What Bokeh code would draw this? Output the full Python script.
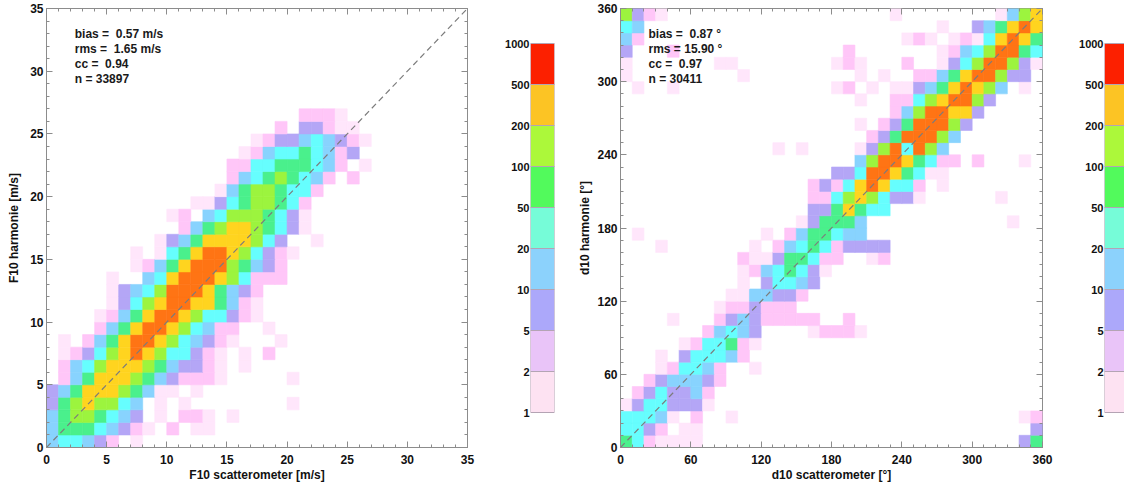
from bokeh.plotting import figure
from bokeh.layouts import row
from bokeh.models import ColumnDataSource, LinearAxis, FixedTicker, Range1d, Label
from bokeh.transform import linear_cmap
from bokeh.embed import file_html
from bokeh.resources import INLINE

# edges of the count classes used by both histograms
COUNT_EDGES = ["1", "2", "5", "10", "20", "50", "100", "200", "500", "1000"]

# cell fill for count class 1 (1-2 samples) ... class 9 (500-1000 samples)
CELL_COLORS = ["#ffe6fb", "#ffc6f8", "#b4a6f6", "#88d3fe", "#66fefe",
               "#4af08c", "#9cf43e", "#ffd41f", "#ff7414"]
# fill of the colour-scale boxes, same order
SCALE_COLORS = ["#fde2f2", "#e9c4f8", "#aca8fa", "#8cd2fc", "#76fcd8",
                "#52fa5c", "#acf83a", "#fcc424", "#fc2000"]

# wind speed: 1 m/s bins, one string per row starting at 0 m/s (blanks only
# separate groups of 10 columns); each character is the count class of a cell
F10_BIN = 1
F10_MAX = 35
F10_ROWS = [
    "455432.1..",
    "466654321. 2.11",
    "46776543.1 .221.1",
    "36787754.1 .1........ 1",
    "3468887641 1.1",
    ".246888764 32221..... 1",
    ".245788876 43321.1",
    ".123578987 55321.1.2",
    ".1.2468998 754321...1",
    "....246899 875422..1",
    "....124689 98755321",
    ".....13578 99886421",
    ".....13457 99986432",
    ".....1..45 8999875222",
    ".......124 6899976432",
    ".......1.1 5689987532 1",
    ".........1 3468888753 ..1",
    ".......... .246788765 31",
    ".......... 12.4577765 31",
    ".......... ..11356776 52",
    ".......... ....146776 552",
    ".......... .....24567 6542.2",
    ".......... .....22556 66542.1",
    ".......... ......1245 565423",
    ".......... .......123 3454321",
    ".......... .........2 .33211",
    ".......... .......... .2221",
]
F10_STATS = ["bias =\u00a0 0.57 m/s", "rms =\u00a0 1.65 m/s", "cc =\u00a0 0.94", "n = 33897"]

# wind direction: 10 degree bins, rows from 0 degrees upward, groups of 12 columns
D10_BIN = 10
D10_MAX = 360
D10_ROWS = [
    "6521111..... ............ ..........36",
    "5532.11..... ............ ...........3",
    "55541.2..1.. ............ ..........12",
    "13553331....",
    ".2353342....",
    "..2344432...",
    "...125542..1",
    "...1.355542.",
    ".....1255621",
    ".......24543 ....12221...",
    "....1...2343 22222..2....",
    "........1223 222.........",
    ".........114 4332........",
    "..........1. 35543.......",
    "..........12 456531......",
    "..........21 1366522..12.",
    "...1.......1 .2456523333.",
    ".1.......... 1.2466544...",
    "............ ...136664... .........1..",
    "............ ....3368655.",
    "............ ....22578753 31......1...",
    "............ ....23258985 52.1........",
    "............ ......335998 6511........",
    "............ ........4799 86522.2...1.",
    "............ .1.1....1379 5974........",
    "............ .........236 99974.......",
    "............ ........1.23 699973......",
    "............ ...........2 4799883.....",
    "............ ........1..2 25789973....",
    ".1..1....... ......12.1.1 134689874.1.",
    "1.........1. ........1.1. .2246899733.",
    "1.......11.. ......121... 2..135799731",
    "3...2....... .......2.... ...124579965",
    "42.......... ............ 121.12158986",
    "54.......... ............ ...1..346898",
    "7321........ ...........1 ........1478",
]
D10_STATS = ["bias =\u00a0 0.87 \u00b0", "rms = 15.90 \u00b0", "cc =\u00a0 0.97", "n = 30411"]

FONT = "Liberation Sans"
TICK = "#8c8c8c"
INK = "#111111"
H = 484
TOP, BOTTOM = 8, 37          # frame borders shared by every panel of the row
BAR_TOP, BAR_BOTTOM = 43, 72  # where the colour scale sits inside its panel


def style_axis(ax, ticks, minors):
    ax.ticker = FixedTicker(ticks=ticks, minor_ticks=minors)
    ax.major_tick_in = 6
    ax.major_tick_out = 0
    ax.minor_tick_in = 3
    ax.minor_tick_out = 0
    ax.major_tick_line_color = TICK
    ax.minor_tick_line_color = TICK
    ax.axis_line_color = TICK
    ax.major_label_text_font = FONT
    ax.major_label_text_font_style = "bold"
    ax.major_label_text_font_size = "12px"
    ax.major_label_text_color = INK
    ax.axis_label_text_font = FONT
    ax.axis_label_text_font_style = "bold"
    ax.axis_label_text_font_size = "12px"
    ax.axis_label_text_color = INK


def heat_panel(rows, bin_w, vmax, major, minor, xlabel, ylabel, stats,
               sx, sy, sdy, width, border_l, border_r, ylab_gap):
    cells = dict(x=[], y=[], level=[])
    for j, line in enumerate(rows):
        for i, ch in enumerate(line.replace(" ", "")):
            if ch != ".":
                cells["x"].append((i + 0.5) * bin_w)
                cells["y"].append((j + 0.5) * bin_w)
                cells["level"].append(int(ch))
    src = ColumnDataSource(cells)

    p = figure(width=width, height=H, x_range=Range1d(0, vmax), y_range=Range1d(0, vmax),
               min_border_left=border_l, min_border_right=border_r,
               min_border_top=TOP, min_border_bottom=BOTTOM,
               output_backend="svg", toolbar_location=None)
    p.grid.visible = False
    p.outline_line_color = TICK

    cmap = linear_cmap("level", CELL_COLORS, 0.5, 9.5)
    p.rect("x", "y", width=bin_w, height=bin_w, source=src,
           fill_color=cmap, line_color=cmap, line_width=0.6)
    p.line([0, vmax], [0, vmax], line_color="#7c7c7c", line_dash="6 4", line_width=1.2)

    ticks = list(range(0, vmax + 1, major))
    minors = list(range(0, vmax + 1, minor))
    bottom = p.below[0]
    left = p.left[0]
    style_axis(bottom, ticks, minors)
    style_axis(left, ticks, minors)
    bottom.axis_label = xlabel
    bottom.major_label_standoff = 7
    bottom.axis_label_standoff = 1
    left.axis_label = ylabel
    left.major_label_standoff = 3
    left.axis_label_standoff = ylab_gap

    # mirrored tick marks on the top and right edges
    for loc in ("above", "right"):
        ax = LinearAxis()
        style_axis(ax, ticks, minors)
        ax.major_label_overrides = {t: "" for t in ticks}
        ax.major_label_text_font_size = "1px"
        ax.major_label_standoff = 0
        ax.axis_line_color = None
        p.add_layout(ax, loc)

    for k, txt in enumerate(stats):
        p.add_layout(Label(x=sx, y=sy - k * sdy, text=txt, text_font=FONT,
                           text_font_style="bold", text_font_size="12px",
                           text_color="#1a1a1a", text_baseline="middle"))
    return p


def scale_panel(width, border_l, border_r):
    n = len(SCALE_COLORS)
    k = list(range(n))
    src = ColumnDataSource(dict(bottom=k, top=[v + 1 for v in k], color=SCALE_COLORS))
    # the frame spans the same height as the histograms; pad the range so the
    # boxes occupy only the middle part
    unit = (H - BAR_TOP - BAR_BOTTOM) / n
    pad_lo = (BAR_BOTTOM - BOTTOM) / unit
    pad_hi = (BAR_TOP - TOP) / unit
    cb = figure(width=width, height=H, x_range=Range1d(0, 1), y_range=Range1d(-pad_lo, n + pad_hi),
                min_border_left=border_l, min_border_right=border_r,
                min_border_top=TOP, min_border_bottom=BOTTOM,
                output_backend="svg", toolbar_location=None)
    cb.quad(left=0, right=1, bottom="bottom", top="top", fill_color="color",
            line_color="#b4a4b4", line_width=1, source=src)
    cb.grid.visible = False
    cb.xaxis.visible = False
    cb.outline_line_color = None
    ax = cb.yaxis[0]
    ax.ticker = FixedTicker(ticks=list(range(len(COUNT_EDGES))))
    ax.major_label_overrides = {i: lab for i, lab in enumerate(COUNT_EDGES)}
    ax.major_tick_in = 0
    ax.major_tick_out = 0
    ax.minor_tick_in = 0
    ax.minor_tick_out = 0
    ax.axis_line_color = None
    ax.major_label_standoff = 1
    ax.major_label_text_font = FONT
    ax.major_label_text_font_style = "bold"
    ax.major_label_text_font_size = "11px"
    ax.major_label_text_color = INK
    return cb


speed = heat_panel(F10_ROWS, F10_BIN, F10_MAX, 5, 1,
                   "F10 scatterometer [m/s]", "F10 harmonie [m/s]", F10_STATS,
                   2.35, 33.0, 1.22, 500, 46, 33, 6)
speed_scale = scale_panel(75, 30, 21)
direction = heat_panel(D10_ROWS, D10_BIN, D10_MAX, 60, 10,
                       "d10 scatterometer [\u00b0]", "d10 harmonie [\u00b0]", D10_STATS,
                       23.9, 339.3, 12.4, 499, 45, 32, 2)
direction_scale = scale_panel(50, 30, 0)

layout = row(speed, speed_scale, direction, direction_scale)
open("out.html", "w").write(file_html(layout, INLINE, "F10 and d10 comparison"))
